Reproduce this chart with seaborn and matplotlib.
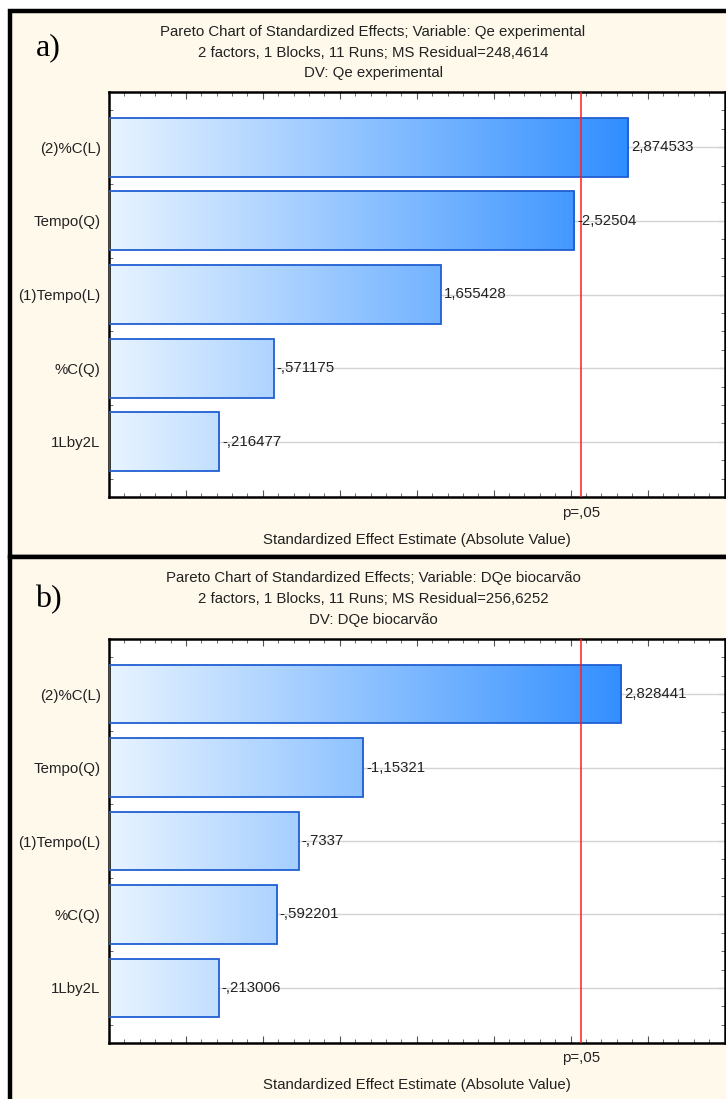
import numpy as np
import pandas as pd
import matplotlib
matplotlib.use("Agg")
import matplotlib.pyplot as plt
import matplotlib.transforms as mtransforms
import seaborn as sns
from matplotlib.colors import LinearSegmentedColormap
from matplotlib.patches import Rectangle
from matplotlib.ticker import MultipleLocator, NullFormatter
from matplotlib import font_manager

# ---------------- data ----------------
factors = ["(2)%C(L)", "Tempo(Q)", "(1)Tempo(L)", "%C(Q)", "1Lby2L"]
effects_a = [2.874533, -2.52504, 1.655428, -0.571175, -0.216477]
effects_b = [2.828441, -1.15321, -0.7337, -0.592201, -0.213006]
t_crit = 2.5706  # p = .05
titles_a = ["Pareto Chart of Standardized Effects; Variable: Qe experimental",
            "2 factors, 1 Blocks, 11 Runs; MS Residual=248,4614",
            "DV: Qe experimental"]
titles_b = ["Pareto Chart of Standardized Effects; Variable: DQe biocarvão",
            "2 factors, 1 Blocks, 11 Runs; MS Residual=256,6252",
            "DV: DQe biocarvão"]
panel_tags = ["a)", "b)"]
p_label = "p=,05"
x_label = "Standardized Effect Estimate (Absolute Value)"

sns.set_theme(style="white")
names = [f.name for f in font_manager.fontManager.ttflist]
narrow = "Liberation Sans Narrow" if "Liberation Sans Narrow" in names else "Liberation Sans"
plt.rcParams["font.family"] = [narrow, "DejaVu Sans"]

W, H = 726, 1099
fig = plt.figure(figsize=(W / 100, H / 100), dpi=100)
fig.patch.set_facecolor("white")

cream = "#FFF9EC"
for (y0, y1) in [(11, 557), (557, 1110)]:
    rect = Rectangle((9.5 / W, 1 - y1 / H), (740 - 9.5) / W, (y1 - y0) / H,
                     transform=fig.transFigure, facecolor=cream,
                     edgecolor="black", linewidth=3.2, zorder=-5)
    fig.patches.append(rect)

cmap = LinearSegmentedColormap.from_list("grad", ["#E8F4FF", "#0E7BFF"])
XMIN, XMAX = -0.5, 3.5
FS = 10.8
TXT = "#222222"

def fmt(v):
    s = str(v)
    if s.lstrip("-").startswith("0."):
        s = s.replace("0.", ".", 1)
    return s.replace(".", ",")

def draw_panel(top_px, bottom_px, effects, titles, tag, title_y, tag_y, p_y, xl_y):
    left_px, right_px = 109, 724.5
    ax = fig.add_axes([left_px / W, 1 - bottom_px / H,
                       (right_px - left_px) / W, (bottom_px - top_px) / H])
    ax.set_zorder(2)
    ax.set_facecolor("white")
    df = pd.DataFrame({"factor": factors, "abs": np.abs(effects)})
    sns.barplot(data=df, x="abs", y="factor", orient="h", width=0.8,
                color="#8EC5FF", ax=ax, zorder=2)
    grad = np.linspace(0, 1, 256).reshape(1, -1)
    for p, v in zip(ax.patches, df["abs"]):
        p.set_x(XMIN)
        p.set_width(v - XMIN)
        p.set_facecolor("none")
        p.set_edgecolor("#1F5FD2")
        p.set_linewidth(1.3)
        p.set_zorder(3)
        y0 = p.get_y()
        im = ax.imshow(grad, extent=[XMIN, XMAX, y0 + p.get_height(), y0],
                       cmap=cmap, aspect="auto", zorder=2.5, interpolation="bicubic")
        im.set_clip_path(p)
    for i, v in enumerate(effects):
        ax.annotate(fmt(v), xy=(abs(v), i), xytext=(2, 0), textcoords="offset points",
                    ha="left", va="center", fontsize=FS, color=TXT, zorder=5)
    ax.axvline(t_crit, color="#FF1E1E", lw=1.1, zorder=4)
    for i in range(len(factors)):
        ax.axhline(i, color="#D4D4D4", lw=1.0, zorder=1)
    ax.set_xlim(XMIN, XMAX)
    ax.set_ylim(len(factors) - 0.25, -0.75)
    ax.set_xlabel("")
    ax.set_ylabel("")
    ax.xaxis.set_major_locator(MultipleLocator(0.5))
    ax.xaxis.set_minor_locator(MultipleLocator(0.1))
    ax.xaxis.set_major_formatter(NullFormatter())
    ax.set_yticks(range(len(factors)))
    ax.set_yticklabels(factors)
    ax.yaxis.set_minor_locator(MultipleLocator(0.25))
    ax.tick_params(axis="both", which="both", direction="in", top=True, right=True,
                   bottom=True, left=True, color="#555555")
    ax.tick_params(axis="both", which="major", length=5, width=0.8)
    ax.tick_params(axis="both", which="minor", length=3, width=0.6)
    ax.tick_params(axis="y", which="major", labelsize=FS, pad=6, labelcolor=TXT)
    for s in ax.spines.values():
        s.set_color("black")
        s.set_linewidth(1.8)
        s.set_visible(True)
    cx = 373 / W
    for k, t in enumerate(titles):
        fig.text(cx, 1 - title_y[k] / H, t, ha="center", va="center",
                 fontsize=FS, color=TXT)
    fig.text(48 / W, 1 - tag_y / H, tag, ha="center", va="center", fontsize=23,
             family="Liberation Serif", color="black")
    tr = mtransforms.blended_transform_factory(ax.transData, fig.transFigure)
    fig.text(t_crit, 1 - p_y / H, p_label, transform=tr,
             ha="center", va="center", fontsize=FS, color=TXT)
    fig.text(417 / W, 1 - xl_y / H, x_label, ha="center", va="center",
             fontsize=FS, color=TXT)

draw_panel(92, 497, effects_a, titles_a, panel_tags[0], [32, 53, 73], 48, 513, 540)
draw_panel(639, 1043, effects_b, titles_b, panel_tags[1], [578, 599, 620], 600, 1058, 1085)

fig.savefig("out.png", dpi=100, facecolor="white")
